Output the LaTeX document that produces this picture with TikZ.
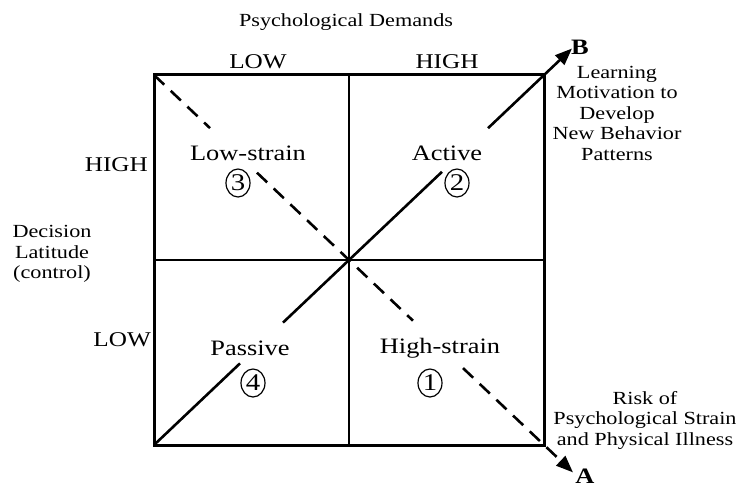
\documentclass[tikz,border=0pt]{standalone}
\usepackage{fontspec}
\setmainfont[FakeStretch=1.2]{Liberation Serif}
\usetikzlibrary{arrows.meta,shapes.geometric}
\begin{document}
\begin{tikzpicture}[x=1pt,y=-1pt,
  lbl/.style={font=\fontsize{18.5}{20.5}\selectfont, align=center, inner sep=0pt},
  axlbl/.style={font=\fontsize{21}{24}\selectfont, inner sep=0pt},
  quad/.style={font=\fontsize{22}{24}\selectfont, inner sep=0pt},
  num/.style={ellipse, draw, line width=1.2pt, minimum width=24pt, minimum height=28pt, inner sep=0pt, font=\fontsize{24}{24}\selectfont},
  thick box/.style={line width=3pt},
  thin line/.style={line width=1.4pt},
  diag/.style={line width=2.6pt},
  dashdiag/.style={line width=2.6pt, dash pattern=on 14pt off 9pt},
  tip/.style={-{Triangle[length=17pt,width=13pt]}}
]
\useasboundingbox (0,0) rectangle (742,487);
% frame
\coordinate (TL) at (154,75);
\coordinate (TR) at (544,75);
\coordinate (BL) at (154,445);
\coordinate (BR) at (544,445);
\coordinate (TM) at (349,75);
\coordinate (BM) at (349,445);
\coordinate (LM) at (154,260);
\coordinate (RM) at (544,260);
\draw[thin line] (TM) -- (BM);
\draw[thin line] (LM) -- (RM);
\draw[thick box] (TL) rectangle (BR);
% labels
\node[lbl] (psd) at (346,22) {Psychological Demands};
\node[axlbl] (low1) at (258,62) {LOW};
\node[axlbl] (high1) at (447,62) {HIGH};
\node[axlbl, anchor=east] (high2) at (148,165) {HIGH};
\node[axlbl, anchor=east] (low2) at (151,340) {LOW};
\node[lbl] (dl) at (52,254) {Decision\\Latitude\\(control)};
\node[quad] (ls) at (248,153) {Low-strain};
\node[num] (n3) at (238,183) {3};
\node[quad] (ac) at (447,153) {Active};
\node[num] (n2) at (457,183) {2};
\node[quad] (pa) at (250,348) {Passive};
\node[num] (n4) at (253,383) {4};
\node[quad] (hs) at (440,348) {High-strain};
\node[num] (n1) at (430,383) {1};
\node[font=\fontsize{22}{24}\selectfont\bfseries, inner sep=0pt] (B) at (580,47) {B};
\node[font=\fontsize{22}{24}\selectfont\bfseries, inner sep=0pt] (A) at (585,476) {A};
\node[lbl] (learn) at (617,113) {Learning\\Motivation to\\Develop\\New Behavior\\Patterns};
\node[lbl] (risk) at (645,420) {Risk of\\Psychological Strain\\and Physical Illness};
% solid diagonal
\coordinate (s1) at (240,363.4);
\coordinate (s2) at (283,322.6);
\coordinate (s3) at (442,171.8);
\coordinate (s4) at (488,128.2);
\coordinate (Bt) at (572,48.5);
\draw[diag] (BL) -- (s1);
\draw[diag] (s2) -- (s3);
\draw[diag, tip] (s4) -- (Bt);
% dashed diagonal
\coordinate (d1) at (210,128.1);
\coordinate (d2) at (257,172.7);
\coordinate (d3) at (413,320.7);
\coordinate (d4) at (463,368.1);
\coordinate (At) at (573,472.4);
\draw[dashdiag] (TL) -- (d1);
\draw[dashdiag] (d2) -- (d3);
\draw[dashdiag, tip] (d4) -- (At);
\end{tikzpicture}
\end{document}
